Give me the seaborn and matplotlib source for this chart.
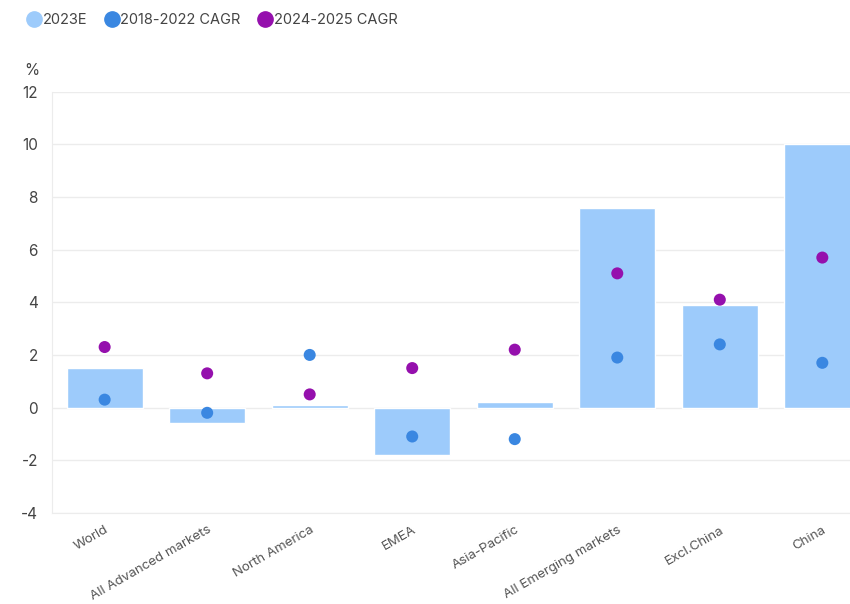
import pandas as pd
import matplotlib.pyplot as plt
import seaborn as sns
from matplotlib.lines import Line2D

regions = ['World', 'All Advanced markets', 'North America', 'EMEA', 'Asia-Pacific',
           'All Emerging markets', 'Excl.China', 'China']
est_2023 = [1.5, -0.6, 0.1, -1.8, 0.2, 7.6, 3.9, 10.0]
cagr_1822 = [0.3, -0.2, 2.0, -1.1, -1.2, 1.9, 2.4, 1.7]
cagr_2425 = [2.3, 1.3, 0.5, 1.5, 2.2, 5.1, 4.1, 5.7]

c_bar = '#9dcbfb'
c_blue = '#3a87e1'
c_purple = '#9510ad'

df = pd.DataFrame({'region': regions, '2023E': est_2023,
                   '2018-2022 CAGR': cagr_1822, '2024-2025 CAGR': cagr_2425})

sns.set_style('white')
plt.rcParams['font.family'] = ['Inter', 'DejaVu Sans']
plt.rcParams['axes.unicode_minus'] = False

fig = plt.figure(figsize=(8.5, 6.04), dpi=100)
ax = fig.add_axes([0.061, 0.151, 0.939, 0.697])

sns.barplot(df, x='region', y='2023E', color=c_bar, width=0.74, saturation=1, ax=ax, zorder=2)
sns.scatterplot(df, x='region', y='2018-2022 CAGR', color=c_blue, s=75, edgecolor='none', ax=ax, zorder=3)
sns.scatterplot(df, x='region', y='2024-2025 CAGR', color=c_purple, s=75, edgecolor='none', ax=ax, zorder=3)

ax.set_ylim(-4, 12)
ax.set_yticks(range(-4, 13, 2))
ax.set_xlim(-0.515, 7.27)
ax.grid(axis='y', color='#ececec', linewidth=1, zorder=0)
for s in ['top', 'right']:
    ax.spines[s].set_visible(False)
for s in ['left', 'bottom']:
    ax.spines[s].set_color('#ececec')
ax.set_xlabel('')
ax.set_ylabel('')
ax.tick_params(axis='y', length=0, labelsize=11, labelcolor='#444444', pad=10)
ax.tick_params(axis='x', length=6, color='#e6e6e6', labelsize=9.6, labelcolor='#555555', pad=2)
plt.setp(ax.get_xticklabels(), rotation=30, ha='right', rotation_mode='anchor')

fig.text(0.028, 0.876, '%', fontsize=11, color='#444444')

handles = [Line2D([], [], marker='o', linestyle='', color=c, markersize=11)
           for c in [c_bar, c_blue, c_purple]]
fig.legend(handles, ['2023E', '2018-2022 CAGR', '2024-2025 CAGR'], loc='upper left',
           bbox_to_anchor=(0.012, 1.0), ncol=3, frameon=False, fontsize=10.5,
           handletextpad=-0.15, handlelength=1.5, columnspacing=0.9, labelcolor='#444444')

plt.savefig('out.png', dpi=100)
